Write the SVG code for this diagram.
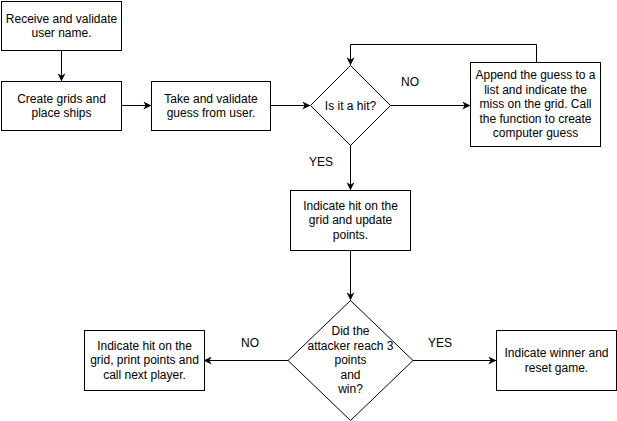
<svg xmlns="http://www.w3.org/2000/svg" width="617" height="421" viewBox="0 0 617 421">
<style>
.n{fill:#fff;stroke:#000;stroke-width:1}
.t{font-family:"Liberation Sans",Arial,sans-serif;font-size:12px;fill:#000;text-anchor:middle}
.c{fill:none;stroke:#000;stroke-width:1}
</style>
<defs>
<marker id="a" viewBox="0 0 10 10" refX="9" refY="5" markerWidth="8" markerHeight="8" markerUnits="userSpaceOnUse" orient="auto">
<path d="M0,0 L10,5 L0,10 L3,5 z" fill="#000"/>
</marker>
</defs>
<rect width="617" height="421" fill="#fff"/>
<g id="connectors">
<path class="c" d="M61.5,50.5 V80.5" marker-end="url(#a)"/>
<path class="c" d="M121.5,105.5 H150.5" marker-end="url(#a)"/>
<path class="c" d="M270.5,105.5 H309.5" marker-end="url(#a)"/>
<path class="c" d="M390.5,105.5 H469.5" marker-end="url(#a)"/>
<path class="c" d="M536.5,62.5 V44.5 H350.5 V64.5" marker-end="url(#a)"/>
<path class="c" d="M350.5,145.5 V189.5" marker-end="url(#a)"/>
<path class="c" d="M350.5,250.5 V299.5" marker-end="url(#a)"/>
<path class="c" d="M288,360.5 H204.5" marker-end="url(#a)"/>
<path class="c" d="M413,360.5 H495.5" marker-end="url(#a)"/>
<text class="t" x="410" y="86">NO</text>
<text class="t" x="321" y="166">YES</text>
<text class="t" x="250" y="347">NO</text>
<text class="t" x="440" y="347">YES</text>
</g>
<g id="receive">
<rect class="n" x="1.5" y="1.5" width="120" height="49"/>
<text class="t" x="61.5" y="22.5">Receive and validate</text>
<text class="t" x="61.5" y="37">user name.</text>
</g>
<g id="create">
<rect class="n" x="1.5" y="81.5" width="120" height="49"/>
<text class="t" x="61.5" y="102.5">Create grids and</text>
<text class="t" x="61.5" y="117">place ships</text>
</g>
<g id="take">
<rect class="n" x="151.5" y="81.5" width="119" height="49"/>
<text class="t" x="211" y="102.5">Take and validate</text>
<text class="t" x="211" y="117">guess from user.</text>
</g>
<g id="hit">
<path class="n" d="M350.5,65.5 L390.5,105.5 L350.5,145.5 L310.5,105.5 Z"/>
<text class="t" x="350.5" y="109.5">Is it a hit?</text>
</g>
<g id="append">
<rect class="n" x="470.5" y="62.5" width="130" height="84"/>
<text class="t" x="535.5" y="79">Append the guess to a</text>
<text class="t" x="535.5" y="93.5">list and indicate the</text>
<text class="t" x="535.5" y="108">miss on the grid. Call</text>
<text class="t" x="535.5" y="122.5">the function to create</text>
<text class="t" x="535.5" y="137">computer guess</text>
</g>
<g id="indicate">
<rect class="n" x="290.5" y="190.5" width="120" height="60"/>
<text class="t" x="350.5" y="209.5">Indicate hit on the</text>
<text class="t" x="350.5" y="224">grid and update</text>
<text class="t" x="350.5" y="238.5">points.</text>
</g>
<g id="reach">
<path class="n" d="M350.5,300.5 L413,360.5 L350.5,420.5 L288,360.5 Z"/>
<text class="t" x="350.5" y="335">Did the</text>
<text class="t" x="350.5" y="349.5">attacker reach 3</text>
<text class="t" x="350.5" y="364">points</text>
<text class="t" x="350.5" y="378.5">and</text>
<text class="t" x="350.5" y="393">win?</text>
</g>
<g id="next">
<rect class="n" x="84.5" y="330.5" width="120" height="60"/>
<text class="t" x="144.5" y="349.5">Indicate hit on the</text>
<text class="t" x="144.5" y="364">grid, print points and</text>
<text class="t" x="144.5" y="378.5">call next player.</text>
</g>
<g id="winner">
<rect class="n" x="496.5" y="330.5" width="120" height="60"/>
<text class="t" x="556.5" y="357">Indicate winner and</text>
<text class="t" x="556.5" y="371.5">reset game.</text>
</g>
</svg>
